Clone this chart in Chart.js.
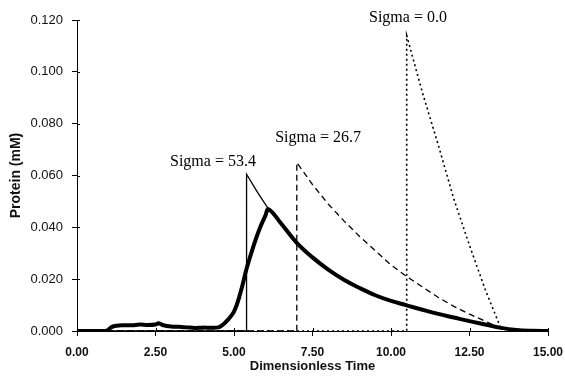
<!DOCTYPE html>
<html>
<head>
<meta charset="utf-8">
<script src="https://cdn.jsdelivr.net/npm/chart.js@4/dist/chart.umd.min.js"></script>
<style>
  html, body { margin: 0; padding: 0; background: #fff; }
  #wrap { width: 565px; height: 380px; position: relative; }
</style>
</head>
<body>
<div id="wrap"><canvas id="chart"></canvas></div>
<script>
// measured profile (thick line)
const measuredT = [0, 0.5, 0.9, 1.0, 1.1, 1.25, 1.5, 1.75, 2.0, 2.25, 2.5, 2.6, 2.75, 3.0, 3.25, 3.5, 3.75, 4.0, 4.25, 4.5, 4.6, 4.75, 5.0, 5.2, 5.4, 5.6, 5.8, 6.0, 6.1, 6.5, 7.0, 7.5, 8.0, 8.5, 9.0, 9.5, 10.0, 10.5, 11.0, 11.5, 12.0, 12.5, 13.0, 13.5, 14.0, 14.5, 15.0];
const measuredC = [0, 0, 0, 0.0005, 0.0015, 0.002, 0.0022, 0.0022, 0.0025, 0.0023, 0.0025, 0.003, 0.0022, 0.0017, 0.0016, 0.0014, 0.0012, 0.0013, 0.0013, 0.0014, 0.002, 0.0036, 0.0075, 0.0145, 0.024, 0.032, 0.039, 0.0445, 0.047, 0.0415, 0.034, 0.0284, 0.0237, 0.0198, 0.0166, 0.0138, 0.0116, 0.0099, 0.0082, 0.0066, 0.0052, 0.0038, 0.0025, 0.0012, 0.0004, 0.0001, 0];

// Sigma = 53.4 (thin solid)
const s534T = [0, 5.4, 5.4, 5.75, 6.1, 6.5, 7.0, 7.5, 8.0, 8.5, 9.0, 9.5, 10.0, 10.5, 11.0, 11.5, 12.0, 12.5, 13.0, 13.5, 14.0, 15.0];
const s534C = [0, 0, 0.0605, 0.0535, 0.047, 0.0415, 0.034, 0.0284, 0.0237, 0.0198, 0.0166, 0.0138, 0.0116, 0.0099, 0.0082, 0.0066, 0.0052, 0.0038, 0.0025, 0.0012, 0.0004, 0];

// Sigma = 26.7 (dashed)
const s267T = [0, 7.0, 7.0, 7.5, 8.0, 8.5, 9.0, 9.5, 10.0, 10.5, 11.0, 11.5, 12.0, 12.5, 13.0, 13.5, 14.0, 15.0];
const s267C = [0, 0, 0.065, 0.0565, 0.049, 0.0425, 0.0365, 0.031, 0.0255, 0.021, 0.017, 0.013, 0.0095, 0.0065, 0.0038, 0.001, 0, 0];

// Sigma = 0.0 (dotted)
const s00T = [0, 10.5, 10.5, 11.0, 11.5, 12.0, 12.5, 13.0, 13.5, 14.0, 15.0];
const s00C = [0, 0, 0.114, 0.092, 0.072, 0.051, 0.033, 0.016, 0.001, 0, 0];

const xTicks = [0, 2.5, 5, 7.5, 10, 12.5, 15];
const yTicks = [0, 0.02, 0.04, 0.06, 0.08, 0.1, 0.12];

const sigmaLabels = [
  { text: 'Sigma = 53.4', x: 4.33, y: 0.0652 },
  { text: 'Sigma = 26.7', x: 7.68, y: 0.0745 },
  { text: 'Sigma = 0.0', x: 10.54, y: 0.1208 }
];

function pts(xs, ys) {
  return xs.map((x, i) => ({ x: x, y: ys[i] }));
}

const labelPlugin = {
  id: 'sigmaLabels',
  afterDraw(chart) {
    const ctx = chart.ctx;
    const xs = chart.scales.x, ys = chart.scales.y;
    ctx.save();
    // inner half of the tick marks
    ctx.strokeStyle = '#000';
    ctx.lineWidth = 1;
    ctx.beginPath();
    xTicks.forEach(t => {
      const px = Math.round(xs.getPixelForValue(t)) + 0.5;
      ctx.moveTo(px, ys.bottom);
      ctx.lineTo(px, ys.bottom - 3);
    });
    yTicks.forEach(t => {
      const py = Math.round(ys.getPixelForValue(t)) + 0.5;
      ctx.moveTo(xs.left, py);
      ctx.lineTo(xs.left + 3, py);
    });
    ctx.stroke();
    ctx.fillStyle = '#000';
    ctx.font = '16px "Liberation Serif", serif';
    ctx.textAlign = 'center';
    ctx.textBaseline = 'middle';
    sigmaLabels.forEach(l => {
      ctx.fillText(l.text, xs.getPixelForValue(l.x), ys.getPixelForValue(l.y));
    });
    ctx.restore();
  }
};

new Chart(document.getElementById('chart'), {
  type: 'line',
  data: {
    datasets: [
      { label: 'Sigma = 53.4', data: pts(s534T, s534C), borderColor: '#000', borderWidth: 1.3, tension: 0 },
      { label: 'Sigma = 26.7', data: pts(s267T, s267C), borderColor: '#000', borderWidth: 1.3, borderDash: [6, 4], tension: 0 },
      { label: 'Sigma = 0.0', data: pts(s00T, s00C), borderColor: '#000', borderWidth: 1.6, borderDash: [2, 3], tension: 0 },
      { label: 'Measured', data: pts(measuredT, measuredC), borderColor: '#000', borderWidth: 4, tension: 0.4 }
    ]
  },
  options: {
    responsive: true,
    maintainAspectRatio: false,
    animation: false,
    parsing: false,
    elements: { point: { radius: 0 } },
    layout: { padding: { top: 20, right: 17, bottom: 0, left: 0 } },
    plugins: { legend: { display: false }, tooltip: { enabled: false } },
    scales: {
      x: {
        type: 'linear',
        min: 0, max: 15,
        afterFit: s => { s.height = 49; s.paddingLeft = 0; s.paddingRight = 0; },
        afterBuildTicks: s => { s.ticks = xTicks.map(v => ({ value: v })); },
        border: { color: '#000', width: 1 },
        grid: { drawOnChartArea: false, color: '#000', tickLength: 5 },
        ticks: {
          color: '#111', padding: 9, maxRotation: 0,
          font: { family: '"Liberation Sans", Arial, sans-serif', size: 12, weight: 'bold' },
          callback: v => v.toFixed(2)
        },
        title: {
          display: true, text: 'Dimensionless Time', color: '#111',
          font: { family: '"Liberation Sans", Arial, sans-serif', size: 13, weight: 'bold' },
          padding: { top: 0, bottom: 6 }
        }
      },
      y: {
        min: 0, max: 0.12,
        afterFit: s => { s.width = 77; s.paddingTop = 0; s.paddingBottom = 0; },
        afterBuildTicks: s => { s.ticks = yTicks.map(v => ({ value: v })); },
        border: { color: '#000', width: 1 },
        grid: { drawOnChartArea: false, color: '#000', tickLength: 5 },
        ticks: {
          color: '#111', padding: 9,
          font: { family: '"Liberation Sans", Arial, sans-serif', size: 13 },
          callback: v => v.toFixed(3)
        },
        title: {
          display: true, text: 'Protein (mM)', color: '#111',
          font: { family: '"Liberation Sans", Arial, sans-serif', size: 14, weight: 'bold' },
          padding: { top: 8, bottom: 0 }
        }
      }
    }
  },
  plugins: [labelPlugin]
});
</script>
</body>
</html>
